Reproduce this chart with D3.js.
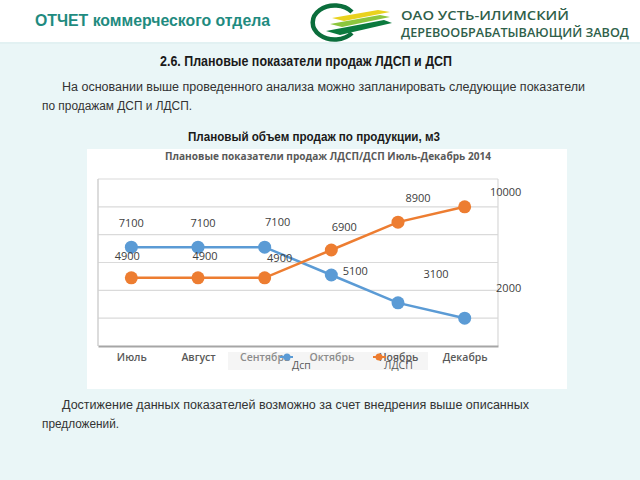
<!DOCTYPE html>
<html><head><meta charset="utf-8">
<script src="https://cdn.jsdelivr.net/npm/d3@7/dist/d3.min.js"></script>
<style>body{margin:0;padding:0;background:#eaf6f7;}svg{display:block;}</style>
</head><body>
<script>
const months = ["Июль","Август","Сентябрь","Октябрь","Ноябрь","Декабрь"];
const dsp = [7100,7100,7100,5100,3100,2000];
const ldsp = [4900,4900,4900,6900,8900,10000];
const yTicks = [0,2000,4000,6000,8000,10000,12000];
const seriesNames = ["Дсп","ЛДСП"];

const W=640,H=480;
const svg=d3.select("body").append("svg").attr("width",W).attr("height",H);
svg.append("rect").attr("width",W).attr("height",H).attr("fill","#eaf6f7");
// header band
svg.append("rect").attr("x",0).attr("y",0).attr("width",W).attr("height",42).attr("fill","#ffffff");
svg.append("rect").attr("x",0).attr("y",42).attr("width",W).attr("height",2).attr("fill","#e2f1f2");
svg.append("text").attr("x",35).attr("y",26).attr("font-family","Liberation Sans, Arial, sans-serif")
  .attr("font-size",16).attr("font-weight","bold").attr("fill","#1f8b80")
  .attr("textLength",235).attr("lengthAdjust","spacingAndGlyphs").text("ОТЧЕТ коммерческого отдела");
// logo
const lg=svg.append("g");
lg.append("path").attr("d","M352,12 A22,17 0 1 0 352,33").attr("fill","none").attr("stroke","#0b6e3c").attr("stroke-width",4.5);
lg.append("path").attr("d","M332,18 L378,10 L390,12 L344,21 Z").attr("fill","#e9d21e");
lg.append("path").attr("d","M330,24 L380,15 L390,17 L342,27 Z").attr("fill","#8cc63e");
lg.append("path").attr("d","M326,31 L384,20 L392,23 L340,35 Z").attr("fill","#0b7a3e");
svg.append("text").attr("x",401).attr("y",20).attr("font-family","Open Sans, Liberation Sans, sans-serif")
  .attr("font-size",12.5).attr("font-weight",600).attr("fill","#2f5f4a").attr("textLength",168).attr("lengthAdjust","spacingAndGlyphs").text("ОАО УСТЬ-ИЛИМСКИЙ");
svg.append("text").attr("x",401).attr("y",37).attr("font-family","Open Sans, Liberation Sans, sans-serif")
  .attr("font-size",12.5).attr("font-weight",600).attr("fill","#2f5f4a").attr("textLength",228).attr("lengthAdjust","spacingAndGlyphs").text("ДЕРЕВООБРАБАТЫВАЮЩИЙ ЗАВОД");

const tf="Liberation Sans, Arial, sans-serif";
svg.append("text").attr("x",160).attr("y",66).attr("font-family",tf).attr("font-size",14).attr("font-weight","bold")
  .attr("fill","#1a1a1a").attr("textLength",292).attr("lengthAdjust","spacingAndGlyphs").text("2.6. Плановые показатели продаж ЛДСП и ДСП");
svg.append("text").attr("x",62).attr("y",91).attr("font-family",tf).attr("font-size",12).attr("fill","#333")
  .attr("textLength",523).attr("lengthAdjust","spacingAndGlyphs").text("На основании выше проведенного анализа можно запланировать следующие показатели");
svg.append("text").attr("x",42).attr("y",110).attr("font-family",tf).attr("font-size",12).attr("fill","#333")
  .attr("textLength",150).attr("lengthAdjust","spacingAndGlyphs").text("по продажам ДСП и ЛДСП.");
svg.append("text").attr("x",188).attr("y",141).attr("font-family",tf).attr("font-size",12).attr("font-weight","bold").attr("fill","#1a1a1a")
  .attr("textLength",252).attr("lengthAdjust","spacingAndGlyphs").text("Плановый объем продаж по продукции, м3");
svg.append("text").attr("x",62).attr("y",409).attr("font-family",tf).attr("font-size",12).attr("fill","#333")
  .attr("textLength",467).attr("lengthAdjust","spacingAndGlyphs").text("Достижение данных показателей возможно за счет внедрения выше описанных");
svg.append("text").attr("x",42).attr("y",428).attr("font-family",tf).attr("font-size",12).attr("fill","#333")
  .attr("textLength",77).attr("lengthAdjust","spacingAndGlyphs").text("предложений.");

// chart box
svg.append("rect").attr("x",87).attr("y",149).attr("width",480).attr("height",240).attr("fill","#ffffff");
const cf="Open Sans, Liberation Sans, sans-serif";
svg.append("text").attr("x",165).attr("y",160).attr("font-family",cf).attr("font-size",11).attr("font-weight","bold")
  .attr("fill","#595959").attr("textLength",326).attr("lengthAdjust","spacingAndGlyphs").text("Плановые показатели продаж ЛДСП/ДСП Июль-Декабрь 2014");

const x=d3.scalePoint().domain(months).range([98,498]).padding(0.5);
const y=d3.scaleLinear().domain([0,12000]).range([346,179]);

svg.append("g").selectAll("line").data(yTicks.filter(d=>d>0)).join("line")
  .attr("x1",98).attr("x2",498).attr("y1",d=>y(d)).attr("y2",d=>y(d)).attr("stroke","#dadada").attr("stroke-width",1.2);
svg.append("line").attr("x1",98).attr("x2",98).attr("y1",179).attr("y2",346).attr("stroke","#d0d0d0").attr("stroke-width",1.5);
svg.append("line").attr("x1",498).attr("x2",498).attr("y1",179).attr("y2",346).attr("stroke","#d8d8d8").attr("stroke-width",1.2);

// legend background
svg.append("rect").attr("x",228).attr("y",352).attr("width",200).attr("height",18).attr("fill","#f5f5f5");

const xAxis=svg.append("g").attr("transform","translate(0,346)").call(d3.axisBottom(x).tickSize(0).tickPadding(8));
xAxis.select(".domain").attr("stroke","#a6a6a6").attr("stroke-width",2);
xAxis.selectAll("text").attr("font-family",cf).attr("font-size",10.5).attr("font-weight",600)
  .attr("fill",(d,i)=> (i===2||i===3)?"#8c8c8c":"#595959");

const series=[{name:seriesNames[0],vals:dsp,color:"#5b9bd5"},{name:seriesNames[1],vals:ldsp,color:"#ed7d31"}];
const line=d3.line().x((d,i)=>x(months[i])).y(d=>y(d));
series.forEach(s=>{
  svg.append("path").datum(s.vals).attr("d",line).attr("fill","none").attr("stroke",s.color).attr("stroke-width",2.5);
  svg.append("g").selectAll("circle").data(s.vals).join("circle")
    .attr("cx",(d,i)=>x(months[i])).attr("cy",d=>y(d)).attr("r",6.5).attr("fill",s.color);
});

// data labels (offsets relative to points)
const dspOff=[[0,-24],[5,-24],[13,-25],[24,-4],[38,-29],[44,-30]];
const ldspOff=[[-4,-22],[7,-22],[15,-20],[13,-23],[20,-24],[41,-15]];
function labels(vals,off){
  svg.append("g").selectAll("text").data(vals).join("text")
    .attr("x",(d,i)=>x(months[i])+off[i][0]).attr("y",(d,i)=>y(d)+off[i][1]+4)
    .attr("text-anchor","middle").attr("font-family",cf).attr("font-size",11).attr("fill","#404040").text(d=>d);
}
labels(dsp,dspOff);
labels(ldsp,ldspOff);

// legend
const lgd=svg.append("g");
lgd.append("line").attr("x1",280).attr("x2",293).attr("y1",357).attr("y2",357).attr("stroke",series[0].color).attr("stroke-width",2);
lgd.append("circle").attr("cx",287).attr("cy",357).attr("r",3.5).attr("fill",series[0].color);
lgd.append("text").attr("x",292).attr("y",369).attr("font-family",cf).attr("font-size",10.5).attr("fill","#595959").text(series[0].name);
lgd.append("line").attr("x1",373).attr("x2",386).attr("y1",357).attr("y2",357).attr("stroke",series[1].color).attr("stroke-width",2);
lgd.append("circle").attr("cx",379).attr("cy",357).attr("r",3.5).attr("fill",series[1].color);
lgd.append("text").attr("x",384).attr("y",369).attr("font-family",cf).attr("font-size",10.5).attr("fill","#595959").text(series[1].name);
</script>
</body></html>
